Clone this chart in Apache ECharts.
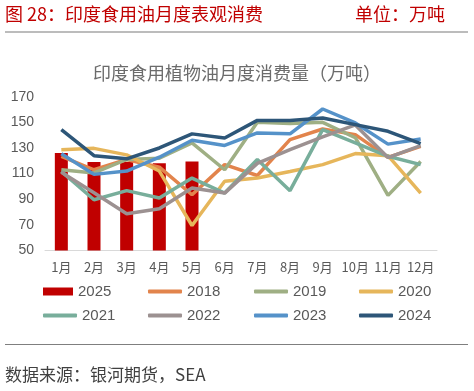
<!DOCTYPE html>
<html><head><meta charset="utf-8">
<script src="https://cdn.jsdelivr.net/npm/echarts@6/dist/echarts.min.js"></script>
<style>html,body{margin:0;padding:0;background:#fff}#c{width:474px;height:391px}</style>
</head><body><div id="c"></div>
<script>
const categories = ['1月','2月','3月','4月','5月','6月','7月','8月','9月','10月','11月','12月'];
const yTicks = [50, 170, 20]; // min, max, interval
const s2025 = [126, 119, 119, 118, 119.5];
const s2018 = [123.5, 113, 121, 115, 93.5, 117, 108.5, 136.5, 144.8, 140.4, 122.7, 131.3];
const s2019 = [113, 110.5, 121, 122, 134, 113, 150, 149, 150, 138, 93, 119.5];
const s2020 = [128.7, 129.7, 124.6, 112, 69.5, 104, 106.5, 111.7, 117, 125.6, 124, 94.8];
const s2021 = [111.7, 89.6, 96.7, 91, 106.5, 94.8, 121, 96.7, 144.3, 134, 123.5, 117];
const s2022 = [111, 95, 78.7, 82.6, 98.7, 94.8, 118, 128.7, 138.6, 148, 122.5, 131.8];
const s2023 = [125.5, 109.4, 112, 122.8, 136, 132, 141.7, 141, 160.4, 149.5, 133, 137];
const s2024 = [144.3, 124, 121.5, 130, 141, 137.8, 151.5, 151.5, 153.4, 148.2, 143, 133.4];

const lineSeries = [
  ['2018', s2018, '#e2844c'],
  ['2019', s2019, '#9faf84'],
  ['2020', s2020, '#e6b65b'],
  ['2021', s2021, '#78ae9b'],
  ['2022', s2022, '#9c9191'],
  ['2023', s2023, '#5592c9'],
  ['2024', s2024, '#2d5678']
];

const series = [{
  name: '2025', type: 'bar', data: s2025, barWidth: 13,
  itemStyle: { color: '#c00000' }, z: 1
}].concat(lineSeries.map(([n, d, c]) => ({
  name: n, type: 'line', data: d, showSymbol: false, symbol: 'none',
  lineStyle: { width: 3.5, color: c }, itemStyle: { color: c }, z: 2
})));

const names = ['2025'].concat(lineSeries.map(s => s[0]));
const colX = [43, 148, 254, 359];
const rowY = [284, 308];
const legends = names.map((n, i) => ({
  data: [n], left: colX[i % 4], top: rowY[Math.floor(i / 4)], padding: 0,
  itemWidth: i === 0 ? 30 : 34, itemHeight: i === 0 ? 8 : 4,
  icon: i === 0 ? 'rect' : 'roundRect',
  textStyle: { color: '#595959', fontSize: 15, fontFamily: 'Liberation Sans, Noto Sans CJK SC' },
  itemGap: 2
}));

const chart = echarts.init(document.getElementById('c'), null, { renderer: 'canvas' });
chart.setOption({
  animation: false,
  backgroundColor: '#fff',
  title: {
    text: '印度食用植物油月度消费量（万吨）', left: 'center', top: 59,
    textStyle: { color: '#6b6b6b', fontSize: 18, fontWeight: 'normal', fontFamily: 'Noto Sans CJK SC' }
  },
  legend: legends,
  grid: { left: 45, right: 37, top: 96.7, bottom: 140.5, containLabel: false },
  xAxis: {
    type: 'category', data: categories, boundaryGap: true,
    axisLine: { lineStyle: { color: '#d9d9d9', width: 1 } },
    axisTick: { show: false },
    axisLabel: { color: '#595959', fontSize: 13, margin: 10, interval: 0, fontFamily: 'Noto Sans CJK SC' }
  },
  yAxis: {
    type: 'value', min: yTicks[0], max: yTicks[1], interval: yTicks[2],
    axisLine: { show: false }, axisTick: { show: false }, splitLine: { show: false },
    axisLabel: { color: '#595959', fontSize: 14, margin: 11, fontFamily: 'Liberation Sans' }
  },
  series: series,
  graphic: [
    { type: 'text', left: 5, top: 5, style: { text: '图 28：印度食用油月度表观消费', fill: '#c00000', fontSize: 18, fontFamily: 'Noto Sans CJK SC' } },
    { type: 'text', left: 355, top: 5, style: { text: '单位：万吨', fill: '#c00000', fontSize: 18, fontFamily: 'Noto Sans CJK SC' } },
    { type: 'line', shape: { x1: 5, y1: 32, x2: 468, y2: 32 }, style: { stroke: '#a6a6a6', lineWidth: 1.5 } },
    { type: 'line', shape: { x1: 5, y1: 344.5, x2: 468, y2: 344.5 }, style: { stroke: '#7f7f7f', lineWidth: 1 } },
    { type: 'text', left: 5, top: 366, style: { text: '数据来源：银河期货，SEA', fill: '#404040', fontSize: 17, fontFamily: 'Noto Sans CJK SC' } }
  ]
});
</script></body></html>
